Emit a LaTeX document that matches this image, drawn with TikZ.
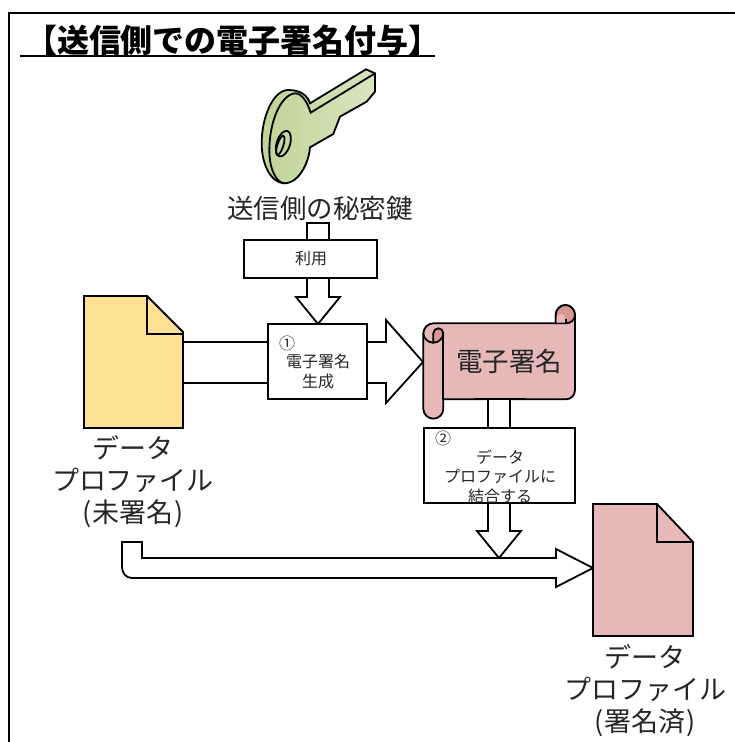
\documentclass[tikz,border=0pt]{standalone}
\usepackage{fontspec}
\setmainfont{Noto Sans CJK JP}
\newcommand{\fsz}[2]{\fontsize{#1}{#2}\selectfont}
\definecolor{docyellow}{HTML}{FEE194}
\definecolor{sigpink}{HTML}{E6B8B7}
\definecolor{sigdark}{HTML}{D99694}
\definecolor{keydark}{HTML}{BFD497}
\definecolor{keylight}{HTML}{D9E5BF}
\definecolor{inkgray}{HTML}{262626}
\tikzset{
  ln/.style={line width=1.8pt,draw=black,line join=miter},
  boxn/.style={ln,fill=white,rectangle,inner sep=0pt,outer sep=0pt},
  blockarrow/.style={ln,fill=white},
  smalltxt/.style={inner sep=0pt,text=inkgray,align=center,font=\fsz{16}{19.5}},
  bigtxt/.style={inner sep=0pt,text=inkgray,align=center,font=\fsz{26.5}{32}},
  doctxt/.style={inner sep=0pt,text=inkgray,align=center,font=\fsz{27}{32}},
}
\begin{document}
\begin{tikzpicture}[x=1pt,y=-1pt]
\useasboundingbox (0,0) rectangle (735,742);
\fill[white] (0,0) rectangle (735,742);
% frame
\coordinate (frameR) at (735,13);
\coordinate (frameTL) at (9,13);
\coordinate (frameB) at (9,742);
\draw[line width=2pt] (frameR) -- (frameTL) -- (frameB);
% title
\node[anchor=south west,inner sep=0pt,outer sep=0pt,font=\fsz{32}{36}\bfseries] (title) at (20,56) {\makebox[415pt][l]{\hspace{5pt}【送信側での電子署名付与】}};
\draw[line width=2pt] (title.south west) -- (title.south east);
% key
\begin{scope}[shift={(220,60)},x=.3333pt,y=-.3333pt]
\draw[ln,left color=keydark,right color=keylight] (270,130) -- (438,28) -- (465,40) -- (465,95) -- (440,125) -- (360,170) -- (340,222) -- (270,262) .. controls (268,300) and (240,372) .. (190,370) .. controls (150,365) and (125,310) .. (125,250) .. controls (125,170) and (160,90) .. (205,90) .. controls (240,90) and (262,105) .. (270,130) -- cycle;
\draw[ln] (465,40) -- (272,158) .. controls (262,125) and (245,100) .. (225,100) .. controls (180,105) and (148,190) .. (148,270) .. controls (148,330) and (170,370) .. (195,370);
\draw[ln] (190,251) ellipse [x radius=20,y radius=40,rotate=-18];
\draw[ln] (181,256) ellipse [x radius=9,y radius=30,rotate=-18];
\end{scope}
\node[bigtxt] (keylabel) at (320,208) {送信側の秘密鍵};
% block arrows first, boxes are laid over them
\coordinate (tipGen) at (318,324);
\draw[blockarrow] (tipGen) -- ++(-22,-27) -- ++(11,0) -- ++(0,-74) -- ++(22,0) -- ++(0,74) -- ++(11,0) -- cycle;
\coordinate (tipSig) at (423,362);
\draw[blockarrow] (tipSig) -- ++(-37,41) -- ++(0,-20) -- ++(-203,0) -- ++(0,-41) -- ++(203,0) -- ++(0,-22) -- cycle;
% process boxes
\node[boxn,minimum width=133pt,minimum height=38pt] (use) at (310.5,259) {};
\node[smalltxt] (usetxt) at (311,259) {利用};
\node[boxn,minimum width=99pt,minimum height=75pt] (gen) at (317.5,361.5) {};
\node[smalltxt] (num1) at (287,343) {①};
\node[smalltxt] (gentxt) at (318,371.5) {電子署名\\生成};
% document 1
\draw[ln,fill=docyellow] (84,296) -- (147,296) -- (183,332) -- (183,428) -- (84,428) -- cycle;
\draw[ln] (147,296) -- (147,334) -- (183,334);
\node[doctxt] (docAtxt) at (133,481.5) {データ\\プロファイル\\(\kern1pt 未署名\kern1pt )};
% scroll
\begin{scope}[shift={(400,290)},x=.3333pt,y=-.3333pt]
\draw[ln,fill=sigpink] (100,100) -- (467,100) -- (467,75) .. controls (467,59) and (481,45) .. (496,45) .. controls (512,45) and (525,59) .. (525,75) -- (525,300) .. controls (525,316) and (513,328) .. (497,328) -- (130,328) -- (130,357) .. controls (130,373) and (116,386) .. (100,386) .. controls (84,386) and (70,373) .. (70,357) -- (70,130) .. controls (70,114) and (84,100) .. (100,100) -- cycle;
% left curl
\draw[ln,fill=sigdark] (100,158) .. controls (116,158) and (130,145) .. (130,130) .. controls (130,122) and (123,115) .. (115,115) .. controls (107,115) and (100,122) .. (100,130) -- cycle;
\draw[ln] (70,130) .. controls (70,145) and (84,158) .. (100,158);
\draw[ln] (130,130) -- (130,328);
% right curl
\draw[ln,fill=sigdark] (467,100) -- (467,75) .. controls (467,59) and (481,45) .. (496,45) .. controls (512,45) and (525,59) .. (525,75) .. controls (525,90) and (512,100) .. (497,100) -- cycle;
\fill[sigpink] (470,98) -- (470,84) .. controls (472,76) and (478,72) .. (483,72) .. controls (490,72) and (496,78) .. (497,87) -- (497,98) -- cycle;
\draw[ln] (497,100) -- (497,87);
\end{scope}
\node[bigtxt] (sigtxt) at (509,361) {電子署名};
% bent arrow into signed document
\coordinate (tipDocB) at (593,568);
\draw[blockarrow] (tipDocB) -- ++(-37,19) -- ++(0,-9) -- (132,578) .. controls (126,578) and (122,573) .. (122,567) -- (122,542) -- (142,542) -- (142,558) -- (556,558) -- (556,549) -- cycle;
% arrow from signature through merge box
\coordinate (tipDown) at (499,558);
\draw[blockarrow] (tipDown) -- ++(-22,-27) -- ++(11,0) -- ++(0,-132) -- ++(22,0) -- ++(0,132) -- ++(11,0) -- cycle;
% redraw scroll's bottom edge over the shaft top
\draw[ln] (475,399) -- (525,399);
\node[boxn,minimum width=151pt,minimum height=75pt] (merge) at (499.5,465.5) {};
\node[smalltxt] (num2) at (443,438) {②};
\node[smalltxt] (mergetxt) at (500,476.5) {データ\\プロファイルに\\結合する};
% document 2
\draw[ln,fill=sigpink] (593,504) -- (657,504) -- (693,542) -- (693,636) -- (593,636) -- cycle;
\draw[ln] (657,504) -- (657,542) -- (693,542);
\node[doctxt] (docBtxt) at (645,691) {データ\\プロファイル\\(\kern1pt 署名済\kern1pt )};
\end{tikzpicture}
\end{document}
